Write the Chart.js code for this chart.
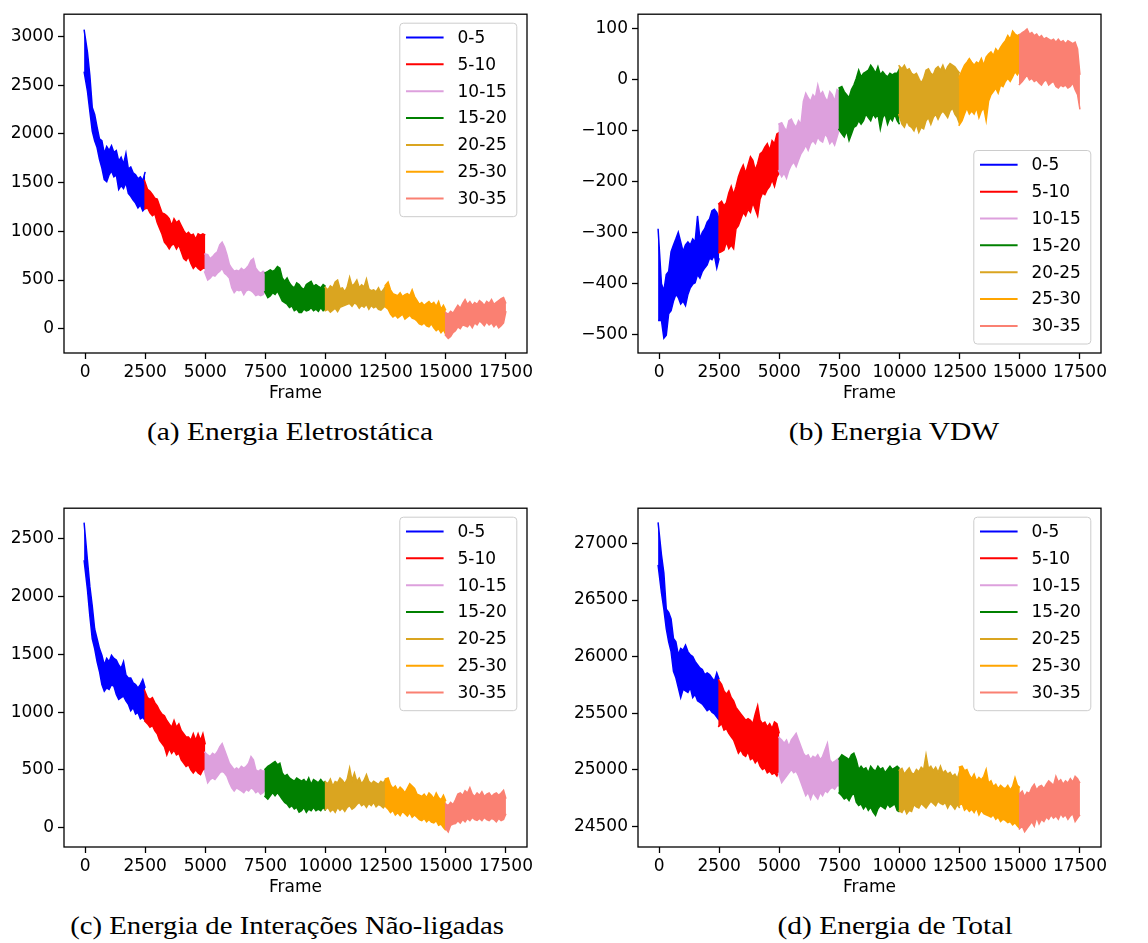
<!DOCTYPE html>
<html><head><meta charset="utf-8">
<script src="https://cdn.jsdelivr.net/npm/chart.js@4.4.1/dist/chart.umd.min.js"></script>
<style>
html,body{margin:0;padding:0;background:#fff;}
body{width:1148px;height:943px;position:relative;overflow:hidden;}
.panel{position:absolute;width:574px;height:415px;}
.caption{position:absolute;font-family:'Liberation Serif',serif;font-size:25px;line-height:30px;color:#000;white-space:nowrap;transform:translateX(-50%) scaleX(1.18);}
</style></head><body>
<div class="panel" style="left:0;top:0"><canvas id="ca" width="574" height="415"></canvas></div>
<div class="panel" style="left:574px;top:0"><canvas id="cb" width="574" height="415"></canvas></div>
<div class="panel" style="left:0;top:494px"><canvas id="cc" width="574" height="415"></canvas></div>
<div class="panel" style="left:574px;top:494px"><canvas id="cd" width="574" height="415"></canvas></div>
<div class="caption" style="left:290px;top:417px">(a) Energia Eletrostática</div>
<div class="caption" style="left:894px;top:417px">(b) Energia VDW</div>
<div class="caption" style="left:287px;top:911px;transform:translateX(-50%) scaleX(1.15)">(c) Energia de Interações Não-ligadas</div>
<div class="caption" style="left:895px;top:911px">(d) Energia de Total</div>
<script>
// ---- data: each segment (2500 frames) is read as the upper (hi) and lower (lo) edge of the noisy trace ----
const seriesLabels = ['0-5','5-10','10-15','15-20','20-25','25-30','30-35'];
const segmentStarts = [0,2500,5000,7500,10000,12500,15000];
const frameOffsets = [-40,100,200,300,400,500,600,700,800,900,1000,1100,1200,1300,1400,1500,1600,1700,1800,1900,2000,2100,2200,2300,2400,2500];
const xTickValues = [0,2500,5000,7500,10000,12500,15000,17500];

// (a) Energia Eletrostática
const eletro_0_5_hi   = [3070,2840,2600,2270,2200,2070,1950,1930,1800,1870,1830,1880,1810,1830,1720,1760,1690,1800,1640,1660,1600,1580,1540,1560,1520,1610];
const eletro_0_5_lo   = [2640,2440,2230,2030,1930,1860,1740,1650,1530,1510,1580,1620,1560,1580,1430,1470,1440,1500,1390,1360,1320,1290,1240,1270,1210,1240];
const eletro_5_10_hi  = [1530,1430,1410,1380,1340,1330,1260,1190,1180,1160,1130,1060,1130,1090,1110,1060,1010,970,990,960,970,920,975,960,975,960];
const eletro_5_10_lo  = [1230,1240,1190,1160,1180,1090,1030,970,890,860,820,860,870,820,860,790,720,700,740,670,620,650,620,600,620,620];
const eletro_10_15_hi = [770,760,720,740,770,790,860,890,840,760,660,620,590,600,590,620,600,620,650,700,720,620,590,570,590,570];
const eletro_10_15_lo = [590,500,520,550,540,570,590,620,570,550,520,420,370,400,390,400,350,390,400,390,370,340,350,340,350,390];
const eletro_15_20_hi = [571,588,605,588,605,638,621,521,487,521,470,437,420,470,453,420,403,453,470,487,436,453,436,420,453,436];
const eletro_15_20_lo = [386,319,336,370,353,386,336,285,269,252,218,235,185,201,168,168,201,184,191,218,184,201,178,218,184,201];
const eletro_20_25_hi = [430,400,440,420,480,500,410,420,380,430,530,440,460,500,420,450,430,510,410,390,400,380,420,370,400,440];
const eletro_20_25_lo = [180,200,170,190,210,175,220,230,240,250,260,230,265,250,210,240,220,250,200,240,215,230,200,190,215,240];
const eletro_25_30_hi = [440,480,400,360,350,340,370,330,350,360,340,400,330,290,250,270,240,260,280,250,270,230,280,200,240,190];
const eletro_25_30_lo = [230,200,150,120,140,110,130,150,100,120,140,110,100,80,50,40,60,30,20,50,10,-20,0,-40,-10,-60];
const eletro_30_35_hi = [170,150,180,160,200,240,210,260,300,250,280,240,270,250,290,270,240,280,260,300,250,270,290,310,320,260];
const eletro_30_35_lo = [-60,-100,-80,-40,-20,20,0,40,30,20,50,10,60,40,80,60,30,70,40,60,20,50,10,30,60,180];
const eletroTicks = [0,500,1000,1500,2000,2500,3000];

// (b) Energia VDW
const vdw_0_5_hi   = [-292,-400,-414,-382,-376,-337,-324,-312,-299,-318,-337,-324,-318,-324,-312,-318,-267,-312,-299,-292,-279,-273,-257,-254,-260,-273];
const vdw_0_5_lo   = [-472,-472,-507,-501,-459,-453,-434,-421,-427,-440,-434,-443,-421,-408,-401,-398,-382,-389,-376,-369,-363,-350,-353,-344,-369,-350];
const vdw_5_10_hi  = [-244,-238,-247,-241,-222,-209,-225,-209,-190,-177,-167,-183,-167,-151,-158,-177,-164,-145,-141,-132,-125,-138,-119,-125,-106,-103];
const vdw_5_10_lo  = [-340,-337,-334,-318,-331,-324,-331,-292,-286,-273,-260,-267,-254,-260,-241,-254,-267,-234,-222,-225,-215,-209,-196,-209,-190,-183];
const vdw_10_15_hi = [-87,-84,-93,-100,-80,-77,-87,-93,-80,-87,-42,-26,-35,-42,-29,-35,-10,-29,-23,-35,-42,-23,-29,-42,-19,-23];
const vdw_10_15_lo = [-177,-190,-183,-193,-177,-167,-161,-170,-157,-145,-138,-128,-138,-125,-119,-125,-112,-119,-122,-106,-112,-125,-119,-128,-112,-96];
const vdw_15_20_hi = [-16,-13,-23,-29,-35,-19,-10,3,19,6,13,16,19,29,22,13,26,10,16,10,6,13,10,13,13,22];
const vdw_15_20_lo = [-96,-106,-112,-100,-119,-106,-93,-90,-80,-87,-80,-67,-74,-80,-67,-74,-67,-96,-74,-67,-87,-74,-80,-67,-80,-87];
const vdw_20_25_hi = [29,22,29,19,22,13,10,13,3,-6,3,19,22,13,10,22,26,19,29,16,26,32,29,26,19,13];
const vdw_20_25_lo = [-67,-87,-93,-80,-90,-93,-100,-87,-103,-93,-96,-80,-74,-87,-74,-67,-77,-67,-61,-67,-74,-61,-55,-67,-74,-87];
const vdw_25_30_hi = [3,19,29,35,42,35,29,35,32,42,29,45,51,55,48,61,55,64,71,77,87,80,96,90,87,90];
const vdw_25_30_lo = [-90,-80,-67,-55,-67,-61,-67,-55,-74,-61,-55,-80,-42,-29,-23,-16,-26,-10,-13,-3,3,-3,6,16,10,19];
const vdw_30_35_hi = [87,93,96,100,90,93,87,90,83,87,80,83,80,77,80,74,80,74,77,71,77,74,71,74,61,10];
const vdw_30_35_lo = [-10,-3,3,10,0,3,-3,0,-6,-10,-3,0,-10,-6,-3,-13,-16,-10,-13,-10,-16,-13,-6,-19,-29,-58];
const vdwTicks = [-500,-400,-300,-200,-100,0,100];

// (c) Energia de Interações Não-ligadas
const nlig_0_5_hi   = [2641,2315,2089,1919,1720,1635,1550,1493,1408,1465,1437,1493,1465,1451,1408,1380,1437,1323,1295,1295,1253,1238,1210,1238,1281,1210];
const nlig_0_5_lo   = [2315,2060,1834,1635,1550,1437,1352,1238,1182,1210,1196,1238,1224,1153,1111,1125,1139,1097,1068,1012,1040,983,997,941,955,927];
const nlig_5_10_hi  = [1196,1125,1111,1125,1082,1054,1012,983,969,927,898,870,927,870,898,841,813,785,785,756,813,756,813,756,813,720];
const nlig_5_10_lo  = [927,898,870,884,841,813,756,728,700,629,685,643,671,629,643,586,558,530,544,501,473,501,473,459,501,501];
const nlig_10_15_hi = [657,629,615,643,629,657,700,728,671,615,558,530,501,516,501,530,516,530,558,615,586,501,487,501,487,501];
const nlig_10_15_lo = [501,388,416,431,416,445,473,487,473,445,388,345,317,345,331,317,303,331,317,345,331,303,317,289,303,331];
const nlig_15_20_hi = [501,530,544,558,572,544,558,473,445,459,430,416,402,430,416,402,416,388,430,374,416,402,388,416,388,402];
const nlig_15_20_lo = [275,246,275,303,275,303,275,246,218,204,175,190,161,175,133,147,175,133,161,147,175,147,161,147,175,147];
const nlig_20_25_hi = [400,380,420,360,400,390,430,410,380,420,516,410,473,400,430,380,410,459,400,380,402,388,374,402,388,420];
const nlig_20_25_lo = [150,175,140,160,133,175,150,170,140,175,190,160,175,200,218,190,205,175,210,190,218,180,200,190,170,200];
const nlig_25_30_hi = [420,430,370,340,360,320,350,330,300,340,380,360,340,290,280,270,290,260,300,280,250,300,260,240,280,230];
const nlig_25_30_lo = [190,160,130,150,110,130,104,140,120,100,130,90,110,90,70,60,80,50,70,47,40,60,20,30,0,-23];
const nlig_30_35_hi = [210,190,218,200,240,290,300,280,320,300,346,290,270,300,280,310,270,290,300,270,290,300,280,300,323,250];
const nlig_30_35_lo = [0,-37,20,30,34,60,40,70,50,80,60,90,70,62,80,60,90,70,60,80,70,50,80,60,70,120];
const nligTicks = [0,500,1000,1500,2000,2500];

// (d) Energia de Total
const total_0_5_hi   = [27188,26900,26739,26420,26391,26333,26160,26131,26015,26073,26058,26102,26044,26015,26000,25957,25928,25899,25885,25841,25856,25841,25812,25783,25856,25798];
const total_0_5_lo   = [26811,26565,26420,26247,26131,26044,25870,25812,25725,25638,25711,25696,25682,25725,25638,25667,25609,25595,25580,25551,25522,25537,25508,25494,25465,25436];
const total_5_10_hi  = [25798,25754,25696,25667,25696,25638,25609,25551,25522,25493,25465,25436,25450,25436,25407,25493,25566,25436,25407,25421,25378,25407,25363,25421,25407,25320];
const total_5_10_lo  = [25378,25407,25349,25363,25320,25291,25262,25204,25146,25175,25131,25117,25160,25088,25103,25059,25088,25030,25001,25016,24972,24987,24958,24972,24943,25001];
const total_10_15_hi = [25291,25262,25233,25262,25204,25262,25291,25320,25262,25204,25146,25117,25131,25088,25117,25103,25131,25088,25117,25175,25233,25088,25059,25073,25088,25103];
const total_10_15_lo = [24972,24885,24914,24943,24972,25001,24972,24987,24943,24885,24827,24769,24798,24740,24798,24769,24740,24798,24769,24813,24798,24827,24842,24827,24856,24856];
const total_15_20_hi = [25088,25131,25117,25103,25088,25131,25146,25088,25001,25030,25001,25016,24972,25030,25001,24987,25030,25001,25016,24972,25001,25030,25001,25016,25030,25010];
const total_15_20_lo = [24798,24769,24740,24755,24726,24769,24798,24711,24682,24697,24653,24682,24639,24668,24624,24595,24653,24682,24668,24653,24697,24668,24682,24697,24639,24625];
const total_20_25_hi = [24990,25010,24960,24990,25015,24970,24960,25000,24980,25020,25000,25131,25010,25030,24990,25020,24975,25030,24970,24990,24960,24975,24940,24960,24920,24990];
const total_20_25_lo = [24640,24620,24660,24610,24640,24630,24690,24670,24660,24700,24680,24660,24690,24720,24700,24680,24720,24700,24690,24710,24660,24700,24680,24650,24690,24660];
const total_25_30_hi = [25020,25030,24990,25000,24950,24920,24960,24900,24930,24910,24940,25001,24880,24900,24850,24870,24830,24860,24840,24830,24860,24820,24850,24929,24860,24840];
const total_25_30_lo = [24680,24700,24640,24660,24630,24650,24620,24660,24600,24640,24610,24600,24590,24580,24600,24560,24580,24540,24560,24550,24530,24540,24510,24530,24500,24480];
const total_30_35_hi = [24780,24810,24760,24800,24790,24840,24870,24820,24850,24860,24830,24870,24900,24880,24860,24940,24890,24910,24870,24900,24880,24920,24890,24940,24920,24880];
const total_30_35_lo = [24470,24500,24450,24480,24510,24540,24500,24580,24520,24560,24540,24580,24560,24600,24570,24590,24560,24610,24580,24600,24560,24590,24610,24540,24570,24600];
const totalTicks = [24500,25000,25500,26000,26500,27000];

// ---- styles ----
const seriesColors = ['#0000ff','#ff0000','#dda0dd','#008000','#daa520','#ffa500','#fa8072'];
const FONT = 'DejaVu Sans';
const W = 574, H = 415;
const AREA = {l:64, t:8, r:527, b:353};

function fmt(v){ return v < 0 ? '\u2212' + Math.abs(v) : String(v); }

const frameLegendPlugin = {
  id: 'frameLegend',
  afterDatasetsDraw(chart, args, opts) {
    const {ctx, chartArea: a} = chart;
    ctx.save();
    ctx.strokeStyle = '#000';
    ctx.lineWidth = 1.3;
    ctx.strokeRect(a.left, a.top, a.right - a.left, a.bottom - a.top);
    const w = 117, h = 193.5;
    const x0 = a.right - 10.2 - w;
    const y0 = opts.corner === 'lower' ? a.bottom - 9 - h : a.top + 9;
    ctx.beginPath();
    ctx.roundRect(x0, y0, w, h, 3.5);
    ctx.fillStyle = 'rgba(255,255,255,0.8)';
    ctx.fill();
    ctx.strokeStyle = '#cccccc';
    ctx.lineWidth = 1;
    ctx.stroke();
    ctx.font = '17px "' + FONT + '"';
    ctx.textBaseline = 'middle';
    ctx.textAlign = 'left';
    chart.data.datasets.filter(ds => ds.label).forEach((ds, i) => {
      const cy = y0 + 14.3 + i * 26.85;
      ctx.strokeStyle = ds.borderColor;
      ctx.lineWidth = 2;
      ctx.beginPath();
      ctx.moveTo(x0 + 6.2, cy);
      ctx.lineTo(x0 + 43.8, cy);
      ctx.stroke();
      ctx.fillStyle = '#000';
      ctx.fillText(ds.label, x0 + 57.7, cy + 1);
    });
    ctx.restore();
  }
};

function pts(k, vals) {
  return vals.map((v, i) => ({x: segmentStarts[k] + frameOffsets[i], y: v}));
}

function makeChart(id, his, los, yMin, yMax, yTicks, corner) {
  const datasets = [];
  const n = his.length;
  his.forEach((hi, k) => {
    const c = seriesColors[k];
    datasets.push({label: seriesLabels[k], data: pts(k, hi), borderColor: c, backgroundColor: c,
      borderWidth: 1.5, pointRadius: 0, tension: 0, fill: '+1', order: n - k});
    datasets.push({label: '', data: pts(k, los[k]), borderColor: c, backgroundColor: c,
      borderWidth: 1.5, pointRadius: 0, tension: 0, fill: false, order: n - k});
  });
  const tickFont = {size: 17, family: FONT};
  new Chart(document.getElementById(id), {
    type: 'line',
    data: {datasets},
    plugins: [frameLegendPlugin],
    options: {
      responsive: false,
      animation: false,
      devicePixelRatio: 1,
      parsing: false,
      normalized: true,
      layout: {padding: {left: 0, top: AREA.t, right: W - AREA.r, bottom: 0}},
      plugins: {legend: {display: false}, tooltip: {enabled: false}, filler: {drawTime: 'beforeDatasetDraw'}, frameLegend: {corner}},
      scales: {
        x: {
          type: 'linear', min: -875, max: 18375,
          afterBuildTicks: s => { s.ticks = xTickValues.map(v => ({value: v})); },
          afterFit: s => { s.height = H - AREA.b; },
          ticks: {autoSkip: false, maxRotation: 0, minRotation: 0, padding: 3, color: '#000', font: tickFont, callback: v => fmt(v)},
          grid: {drawOnChartArea: false, drawTicks: true, tickLength: 6, tickColor: '#000', tickWidth: 1.3},
          border: {display: false},
          title: {display: true, text: 'Frame', color: '#000', font: tickFont, padding: {top: 0, bottom: 11}}
        },
        y: {
          type: 'linear', min: yMin, max: yMax,
          afterBuildTicks: s => { s.ticks = yTicks.map(v => ({value: v})); },
          afterFit: s => { s.width = AREA.l; },
          ticks: {autoSkip: false, padding: 4, color: '#000', font: tickFont, callback: v => fmt(v)},
          grid: {drawOnChartArea: false, drawTicks: true, tickLength: 6, tickColor: '#000', tickWidth: 1.3},
          border: {display: false}
        }
      }
    }
  });
}

makeChart('ca',
  [eletro_0_5_hi, eletro_5_10_hi, eletro_10_15_hi, eletro_15_20_hi, eletro_20_25_hi, eletro_25_30_hi, eletro_30_35_hi],
  [eletro_0_5_lo, eletro_5_10_lo, eletro_10_15_lo, eletro_15_20_lo, eletro_20_25_lo, eletro_25_30_lo, eletro_30_35_lo],
  -249, 3229, eletroTicks, 'upper');
makeChart('cb',
  [vdw_0_5_hi, vdw_5_10_hi, vdw_10_15_hi, vdw_15_20_hi, vdw_20_25_hi, vdw_25_30_hi, vdw_30_35_hi],
  [vdw_0_5_lo, vdw_5_10_lo, vdw_10_15_lo, vdw_15_20_lo, vdw_20_25_lo, vdw_25_30_lo, vdw_30_35_lo],
  -536, 129, vdwTicks, 'lower');
makeChart('cc',
  [nlig_0_5_hi, nlig_5_10_hi, nlig_10_15_hi, nlig_15_20_hi, nlig_20_25_hi, nlig_25_30_hi, nlig_30_35_hi],
  [nlig_0_5_lo, nlig_5_10_lo, nlig_10_15_lo, nlig_15_20_lo, nlig_20_25_lo, nlig_25_30_lo, nlig_30_35_lo],
  -168, 2766, nligTicks, 'upper');
makeChart('cd',
  [total_0_5_hi, total_5_10_hi, total_10_15_hi, total_15_20_hi, total_20_25_hi, total_25_30_hi, total_30_35_hi],
  [total_0_5_lo, total_5_10_lo, total_10_15_lo, total_15_20_lo, total_20_25_lo, total_25_30_lo, total_30_35_lo],
  24315, 27313, totalTicks, 'upper');
</script>
</body></html>
